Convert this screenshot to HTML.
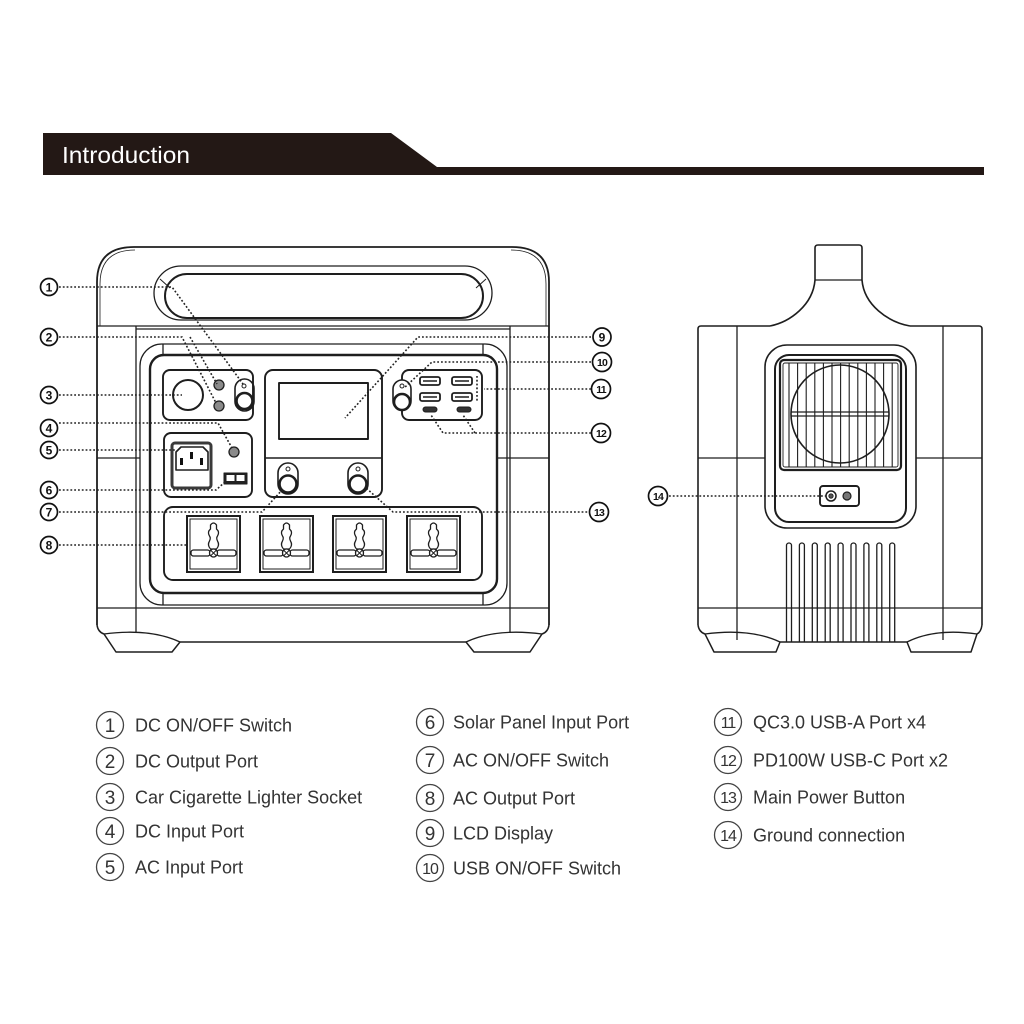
<!DOCTYPE html>
<html>
<head>
<meta charset="utf-8">
<style>
  html,body{margin:0;padding:0;background:#fff;}
  svg{display:block;}
  text{font-family:"Liberation Sans",Arial,sans-serif;}
</style>
</head>
<body>
<svg width="1024" height="1024" viewBox="0 0 1024 1024" xmlns="http://www.w3.org/2000/svg">
<rect width="1024" height="1024" fill="#fff"/>

<!-- Header -->
<path d="M43,133 H391 L437,167 H984 V175 H43 Z" fill="#231815"/>
<text x="62" y="163" font-size="23" fill="#fff" textLength="128" lengthAdjust="spacingAndGlyphs">Introduction</text>

<!-- ================= FRONT DEVICE ================= -->
<g fill="none" stroke="#1e1e1e" stroke-width="1.3" stroke-linejoin="round">
  <!-- outer frame -->
  <path d="M97,625 V282 Q97,247 134,247 H512 Q549,247 549,282 V625" stroke-width="1.8"/>
  <path d="M100,326 V284 Q100,250 135,250" stroke-width="0.8"/>
  <path d="M546,326 V284 Q546,250 511,250" stroke-width="0.8"/>
  <!-- strips -->
  <path d="M97,326 H549"/>
  <path d="M136,329 H510"/>
  <path d="M136,326 V633"/>
  <path d="M510,326 V633"/>
  <path d="M97,458 H140 M497,458 H549"/>
  <path d="M97,608 H549"/>
  <!-- handle -->
  <rect x="154" y="266" width="338" height="54" rx="27"/>
  <rect x="165" y="274" width="318" height="44" rx="22" stroke-width="2"/>
  <path d="M160,279 L170,288 M486,279 L476,288" stroke-width="1"/>
  <!-- outer panel -->
  <rect x="140" y="344" width="367" height="261" rx="22"/>
  <path d="M163,344 V355 M483,344 V355 M163,594 V605 M483,594 V605"/>
  <!-- inner thick panel -->
  <rect x="150" y="355" width="347" height="238" rx="14" stroke-width="2.4"/>
  <!-- bottom / feet -->
  <path d="M97,625 Q98,632 104,634 L116,652 H172 L180,642 H466 L474,652 H530 L542,634 Q548,632 549,625" stroke-width="1.5"/>
  <path d="M104,634 Q150,628 180,642 M466,642 Q496,628 542,634"/>

  <!-- DC box -->
  <rect x="163" y="370" width="90" height="50" rx="7" stroke-width="1.9"/>
  <circle cx="188" cy="395" r="15" stroke-width="2"/>
  <circle cx="219" cy="385" r="5" fill="#8a8a8a" stroke-width="1.3"/>
  <circle cx="219" cy="406" r="5" fill="#8a8a8a" stroke-width="1.3"/>
  <rect x="235" y="379" width="19" height="32" rx="9.5" stroke-width="1.6"/>
  <circle cx="244" cy="386" r="2" stroke-width="1"/>
  <circle cx="244.5" cy="401" r="8" stroke-width="2.6"/>

  <!-- AC input box -->
  <rect x="164" y="433" width="88" height="64" rx="7" stroke-width="1.9"/>
  <rect x="172" y="443" width="39" height="45" rx="3" stroke="#3a3a3a" stroke-width="3"/>
  <path d="M176,452 L181,447 H203 L208,452 V470 H176 Z" stroke-width="1.6"/>
  <circle cx="234" cy="452" r="5" fill="#8a8a8a" stroke-width="1.3"/>
  <rect x="224" y="473" width="23" height="11" fill="#222" stroke-width="1"/>

  <!-- LCD box -->
  <rect x="265" y="370" width="117" height="127" rx="8" stroke-width="1.9"/>
  <rect x="279" y="383" width="89" height="56" stroke-width="1.9"/>
  <path d="M265,458 H382" stroke-width="1.6"/>
  <rect x="278" y="463" width="20" height="31" rx="10" stroke-width="1.6"/>
  <circle cx="288" cy="469" r="2" stroke-width="1"/>
  <circle cx="288" cy="484" r="8.5" stroke-width="2.6"/>
  <rect x="348" y="463" width="20" height="31" rx="10" stroke-width="1.6"/>
  <circle cx="358" cy="469" r="2" stroke-width="1"/>
  <circle cx="358" cy="484" r="8.5" stroke-width="2.6"/>

  <!-- USB box -->
  <rect x="402" y="370" width="80" height="50" rx="7" stroke-width="1.9"/>
  <rect x="393" y="380" width="18" height="30" rx="9" fill="#fff" stroke-width="1.6"/>
  <circle cx="402" cy="386" r="2" stroke-width="1"/>
  <circle cx="402" cy="402" r="8" stroke-width="2.6"/>
  <rect x="420" y="377" width="20" height="8" rx="2" stroke-width="1.8"/>
  <rect x="452" y="377" width="20" height="8" rx="2" stroke-width="1.8"/>
  <rect x="420" y="393" width="20" height="8" rx="2" stroke-width="1.8"/>
  <rect x="452" y="393" width="20" height="8" rx="2" stroke-width="1.8"/>
  <path d="M423,381 H437 M455,381 H469 M423,397 H437 M455,397 H469" stroke-width="1.4"/>
  <rect x="423" y="407" width="14" height="5" rx="2.5" fill="#333" stroke-width="1"/>
  <rect x="457" y="407" width="14" height="5" rx="2.5" fill="#333" stroke-width="1"/>

  <!-- AC outlet panel -->
  <rect x="164" y="507" width="318" height="73" rx="9" stroke-width="1.9"/>
</g>
<!-- solar port detail -->
<rect x="226.5" y="475" width="8" height="6" fill="#fff"/>
<rect x="236.5" y="475" width="8" height="6" fill="#fff"/>
<!-- AC input pins -->
<rect x="180" y="458" width="3" height="7" fill="#111"/>
<rect x="190" y="452" width="3" height="7" fill="#111"/>
<rect x="200" y="458" width="3" height="7" fill="#111"/>

<!-- outlets -->
<defs>
  <g id="outlet" fill="none" stroke="#1e1e1e">
    <rect x="0" y="0" width="53" height="56" stroke-width="2"/>
    <rect x="3" y="3" width="47" height="50" stroke-width="1"/>
    <path d="M23.5,9 Q26.5,5 29.5,9 L29.5,13 Q33,16 30.5,20 Q29,22 30.5,25 Q33,29 29.5,33 L23.5,33 Q20,29 22.5,25 Q24,22 22.5,20 Q20,16 23.5,13 Z" stroke-width="1.3"/>
    <rect x="4" y="34" width="19" height="6" rx="2.5" stroke-width="1.3"/>
    <rect x="30" y="34" width="19" height="6" rx="2.5" stroke-width="1.3"/>
    <circle cx="26.5" cy="37" r="4" fill="#fff" stroke-width="1.3"/>
    <path d="M24,34.5 L29,39.5 M29,34.5 L24,39.5" stroke-width="1"/>
  </g>
</defs>
<use href="#outlet" x="187" y="516"/>
<use href="#outlet" x="260" y="516"/>
<use href="#outlet" x="333" y="516"/>
<use href="#outlet" x="407" y="516"/>

<!-- ================= SIDE DEVICE ================= -->
<g fill="none" stroke="#1e1e1e" stroke-width="1.3" stroke-linejoin="round">
  <!-- nub -->
  <path d="M770,326 C790,322 813,305 815,280 V248 Q815,245 818,245 H859 Q862,245 862,248 V280 C864,305 888,322 910,326" stroke-width="1.6"/>
  <path d="M815,280 H862"/>
  <!-- body -->
  <path d="M770,326 H701 Q698,326 698,329 V625 M910,326 H979 Q982,326 982,329 V625" stroke-width="1.6"/>
  <path d="M737,326 V640 M943,326 V640"/>
  <path d="M698,458 H765 M916,458 H982"/>
  <path d="M698,608 H982"/>
  <!-- feet -->
  <path d="M698,625 Q699,632 705,634 L714,652 H776 L780,642 H907 L911,652 H971 L977,634 Q981,632 982,625" stroke-width="1.5"/>
  <path d="M705,634 Q750,628 780,642 M907,642 Q935,628 977,634"/>
  <!-- panel -->
  <rect x="765" y="345" width="151" height="183" rx="22" fill="#fff" stroke-width="1.6"/>
  <rect x="775" y="355" width="131" height="167" rx="14" stroke-width="2"/>
  <!-- grille -->
  <rect x="780" y="360" width="121" height="110" rx="4" stroke-width="2.2"/>
  <rect x="783" y="363" width="115" height="104" rx="2" stroke-width="0.9"/>
  <path d="M789,363 V467 M797.6,363 V467 M806.2,363 V467 M814.8,363 V467 M823.4,363 V467 M832,363 V467 M840.6,363 V467 M849.2,363 V467 M857.8,363 V467 M866.4,363 V467 M875,363 V467 M883.6,363 V467 M892.2,363 V467" stroke-width="1.1"/>
  <circle cx="840" cy="414" r="49" stroke-width="1.6"/>
  <path d="M791,412 H889 M791,416 H889" stroke-width="1.3"/>
  <!-- ground connector -->
  <rect x="820" y="486" width="39" height="20" rx="3" stroke-width="1.9"/>
  <circle cx="831" cy="496" r="5" stroke-width="1.5"/>
  <circle cx="831" cy="496" r="2.2" fill="#555" stroke-width="0.8"/>
  <circle cx="847" cy="496" r="4" fill="#777" stroke-width="1.2"/>
  <!-- vents -->
  <path d="M786.5,642 V545.5 A2.5,2.5 0 0 1 791.5,545.5 V642
           M799.4,642 V545.5 A2.5,2.5 0 0 1 804.4,545.5 V642
           M812.3,642 V545.5 A2.5,2.5 0 0 1 817.3,545.5 V642
           M825.2,642 V545.5 A2.5,2.5 0 0 1 830.2,545.5 V642
           M838.1,642 V545.5 A2.5,2.5 0 0 1 843.1,545.5 V642
           M851,642 V545.5 A2.5,2.5 0 0 1 856,545.5 V642
           M863.9,642 V545.5 A2.5,2.5 0 0 1 868.9,545.5 V642
           M876.8,642 V545.5 A2.5,2.5 0 0 1 881.8,545.5 V642
           M889.7,642 V545.5 A2.5,2.5 0 0 1 894.7,545.5 V642" stroke-width="1.3"/>
</g>

<!-- ================= LEADER LINES ================= -->
<g fill="none" stroke="#222" stroke-width="1.6" stroke-dasharray="1.8 2">
  <path d="M59,287 H172 L243,384"/>
  <path d="M59,337 H182 L216,403"/>
  <path d="M190,337 L217,384"/>
  <path d="M59,395 H182"/>
  <path d="M59,423 H218 L232,448"/>
  <path d="M59,450 H176"/>
  <path d="M59,490 H216 L225,482"/>
  <path d="M59,512 H262 L282,490"/>
  <path d="M59,545 H187"/>
  <path d="M591,337 H418 L345,418"/>
  <path d="M591,362 H432 L404,388"/>
  <path d="M591,389 H484"/>
  <path d="M477,376 V402"/>
  <path d="M591,433 H443 L431,415"/>
  <path d="M475,433 L463,415"/>
  <path d="M591,512 H393 L365,487"/>
  <path d="M669,496 H826"/>
</g>

<!-- ================= DIAGRAM LABELS ================= -->
<g fill="#fff" stroke="#111" stroke-width="1.7">
  <circle cx="49" cy="287" r="8.5"/>
  <circle cx="49" cy="337" r="8.5"/>
  <circle cx="49" cy="395" r="8.5"/>
  <circle cx="49" cy="428" r="8.5"/>
  <circle cx="49" cy="450" r="8.5"/>
  <circle cx="49" cy="490" r="8.5"/>
  <circle cx="49" cy="512" r="8.5"/>
  <circle cx="49" cy="545" r="8.5"/>
  <circle cx="602" cy="337" r="9"/>
  <circle cx="602" cy="362" r="9.5"/>
  <circle cx="601" cy="389" r="9.5"/>
  <circle cx="601" cy="433" r="9.5"/>
  <circle cx="599" cy="512" r="9.5"/>
  <circle cx="658" cy="496" r="9.5"/>
</g>
<g fill="#111" font-size="12" font-weight="bold" text-anchor="middle">
  <text x="49" y="291.5">1</text>
  <text x="49" y="341.5">2</text>
  <text x="49" y="399.5">3</text>
  <text x="49" y="432.5">4</text>
  <text x="49" y="454.5">5</text>
  <text x="49" y="494.5">6</text>
  <text x="49" y="516.5">7</text>
  <text x="49" y="549.5">8</text>
  <text x="602" y="341.5">9</text>
</g>
<g fill="#111" font-size="10.5" font-weight="bold" text-anchor="middle" letter-spacing="-0.8">
  <text x="602" y="366">10</text>
  <text x="601" y="393">11</text>
  <text x="601" y="437">12</text>
  <text x="599" y="516">13</text>
  <text x="658" y="500">14</text>
</g>

<!-- ================= LEGEND ================= -->
<g fill="none" stroke="#444" stroke-width="1.3">
  <circle cx="110" cy="725" r="13.5"/>
  <circle cx="110" cy="761" r="13.5"/>
  <circle cx="110" cy="797" r="13.5"/>
  <circle cx="110" cy="831" r="13.5"/>
  <circle cx="110" cy="867" r="13.5"/>
  <circle cx="430" cy="722" r="13.5"/>
  <circle cx="430" cy="760" r="13.5"/>
  <circle cx="430" cy="798" r="13.5"/>
  <circle cx="430" cy="833" r="13.5"/>
  <circle cx="430" cy="868" r="13.5"/>
  <circle cx="728" cy="722" r="13.5"/>
  <circle cx="728" cy="760" r="13.5"/>
  <circle cx="728" cy="797" r="13.5"/>
  <circle cx="728" cy="835" r="13.5"/>
</g>
<g fill="#333" font-size="19" text-anchor="middle">
  <text x="110" y="732">1</text>
  <text x="110" y="768">2</text>
  <text x="110" y="804">3</text>
  <text x="110" y="838">4</text>
  <text x="110" y="874">5</text>
  <text x="430" y="729">6</text>
  <text x="430" y="767">7</text>
  <text x="430" y="805">8</text>
  <text x="430" y="840">9</text>
</g>
<g fill="#333" font-size="16" text-anchor="middle" letter-spacing="-1">
  <text x="430" y="874">10</text>
  <text x="728" y="728">11</text>
  <text x="728" y="766">12</text>
  <text x="728" y="803">13</text>
  <text x="728" y="841">14</text>
</g>
<g fill="#333" font-size="18">
  <text x="135" y="731.5">DC ON/OFF Switch</text>
  <text x="135" y="767.5">DC Output Port</text>
  <text x="135" y="803.5">Car Cigarette Lighter Socket</text>
  <text x="135" y="837.5">DC Input Port</text>
  <text x="135" y="873.5">AC Input Port</text>
  <text x="453" y="728.5">Solar Panel Input Port</text>
  <text x="453" y="766.5">AC ON/OFF Switch</text>
  <text x="453" y="804.5">AC Output Port</text>
  <text x="453" y="839.5">LCD Display</text>
  <text x="453" y="874.5">USB ON/OFF Switch</text>
  <text x="753" y="728.5">QC3.0 USB-A Port x4</text>
  <text x="753" y="766.5">PD100W USB-C Port x2</text>
  <text x="753" y="803.5">Main Power Button</text>
  <text x="753" y="841.5">Ground connection</text>
</g>
</svg>
</body>
</html>
